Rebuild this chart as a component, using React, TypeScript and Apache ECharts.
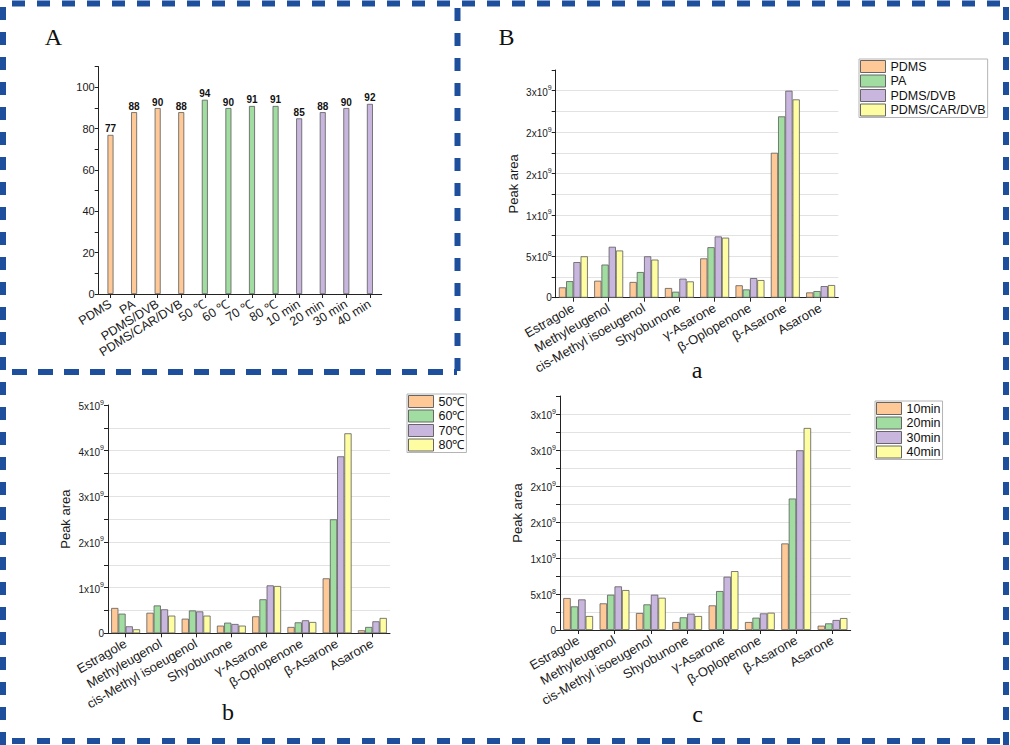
import React, { useEffect, useRef } from 'react';
import * as echarts from 'echarts';

// ---------- Data ----------
const categoriesA = ['PDMS', 'PA', 'PDMS/DVB', 'PDMS/CAR/DVB', '50 ℃', '60 ℃', '70 ℃', '80 ℃', '10 min', '20 min', '30 min', '40 min'];
const valuesA = [77, 88, 90, 88, 94, 90, 91, 91, 85, 88, 90, 92];
const groupA = [0, 0, 0, 0, 1, 1, 1, 1, 2, 2, 2, 2];

const compounds = ['Estragole', 'Methyleugenol', 'cis-Methyl isoeugenol', 'Shyobunone', 'γ-Asarone', 'β-Oplopenone', 'β-Asarone', 'Asarone'];

const fiberNames = ['PDMS', 'PA', 'PDMS/DVB', 'PDMS/CAR/DVB'];
const fiberPDMS = [1.25e8, 2.05e8, 1.9e8, 1.17e8, 4.75e8, 1.5e8, 1.75e9, 0.64e8];
const fiberPA = [2.0e8, 4.0e8, 3.1e8, 0.72e8, 6.1e8, 1.0e8, 2.19e9, 0.8e8];
const fiberPDMSDVB = [4.3e8, 6.15e8, 5.0e8, 2.3e8, 7.4e8, 2.37e8, 2.5e9, 1.4e8];
const fiberPDMSCARDVB = [5.0e8, 5.7e8, 4.6e8, 1.97e8, 7.25e8, 2.13e8, 2.395e9, 1.53e8];

const tempNames = ['50℃', '60℃', '70℃', '80℃'];
const temp50 = [5.55e8, 4.5e8, 3.2e8, 1.68e8, 3.72e8, 1.39e8, 1.204e9, 0.66e8];
const temp60 = [4.3e8, 6.1e8, 5.0e8, 2.33e8, 7.45e8, 2.4e8, 2.496e9, 1.39e8];
const temp70 = [1.53e8, 5.25e8, 4.8e8, 2.04e8, 1.05e9, 2.85e8, 3.876e9, 2.63e8];
const temp80 = [0.88e8, 3.87e8, 3.87e8, 1.68e8, 1.036e9, 2.48e8, 4.38e9, 3.36e8];

const timeNames = ['10min', '20min', '30min', '40min'];
const time10 = [4.44e8, 3.7e8, 2.36e8, 1.11e8, 3.42e8, 1.11e8, 1.202e9, 0.6e8];
const time20 = [3.28e8, 4.9e8, 3.56e8, 1.76e8, 5.41e8, 1.71e8, 1.826e9, 0.92e8];
const time30 = [4.25e8, 6.06e8, 4.9e8, 2.27e8, 7.4e8, 2.31e8, 2.496e9, 1.39e8];
const time40 = [1.94e8, 5.55e8, 4.48e8, 1.94e8, 8.18e8, 2.4e8, 2.806e9, 1.66e8];

const palette = ['#FEC997', '#A1DCA0', '#C9B6DF', '#FEFDA1'];

// ---------- Helpers ----------
const SANS = '"Liberation Sans", Arial, sans-serif';
const SERIF = '"Liberation Serif", "Times New Roman", serif';

function sciFormatter(step: number) {
  return (v: number) => {
    if (v === 0) return '0';
    const r = v / step;
    if (Math.abs(r - Math.round(r)) > 1e-6) return '';
    const e = Math.floor(Math.log10(v) + 1e-9);
    const m = Math.round(v / Math.pow(10, e));
    return `{b|${m}x10}{s|${e}}`;
  };
}

function catAxis(gridIndex: number, data: string[], fontSize: number, rotate: number) {
  return {
    type: 'category',
    gridIndex,
    data,
    boundaryGap: true,
    axisLine: { show: true, lineStyle: { color: '#222', width: 1 } },
    axisTick: { show: true, alignWithLabel: true, interval: 0, length: 4, lineStyle: { color: '#222' } },
    axisLabel: { interval: 0, rotate, fontSize, color: '#1a1a1a', fontFamily: SANS, margin: 9 },
    splitLine: { show: false },
  };
}

function valAxis(gridIndex: number, max: number, interval: number, labelStep: number, grid: boolean, sci: boolean) {
  return {
    type: 'value',
    gridIndex,
    min: 0,
    max,
    interval,
    name: sci ? 'Peak area' : '',
    nameLocation: 'middle',
    nameGap: 36,
    nameTextStyle: { fontSize: 13, color: '#1a1a1a', fontFamily: SANS },
    axisLine: { show: true, lineStyle: { color: '#222', width: 1 } },
    axisTick: { show: true, length: 4, lineStyle: { color: '#222' } },
    axisLabel: {
      fontSize: sci ? 10 : 11,
      color: '#1a1a1a',
      fontFamily: SANS,
      margin: 4,
      formatter: sci
        ? sciFormatter(labelStep)
        : (v: number) => (Math.abs(v / labelStep - Math.round(v / labelStep)) < 1e-6 && v <= 100 ? String(v) : ''),
      rich: {
        b: { fontSize: 10, lineHeight: 13, color: '#1a1a1a', fontFamily: SANS, verticalAlign: 'bottom' },
        s: { fontSize: 7, lineHeight: 8, color: '#1a1a1a', fontFamily: SANS, verticalAlign: 'top' },
      },
    },
    splitLine: grid
      ? { show: true, showMinLine: false, showMaxLine: false, lineStyle: { color: '#e2e2e2', width: 1 } }
      : { show: false },
  };
}

function groupSeries(names: string[], arrays: number[][], axisIndex: number) {
  return names.map((name, k) => ({
    type: 'bar',
    name,
    xAxisIndex: axisIndex,
    yAxisIndex: axisIndex,
    data: arrays[k],
    barGap: '0%',
    barCategoryGap: '18%',
    itemStyle: { color: palette[k], borderColor: '#5c5c5c', borderWidth: 0.8 },
  }));
}

function legendFor(names: string[], left: number, top: number) {
  return {
    data: names,
    left,
    top,
    orient: 'vertical',
    icon: 'rect',
    itemWidth: 25,
    itemHeight: 12,
    itemGap: 1.5,
    padding: [1, 2, 1, 1],
    borderColor: '#b4b4b4',
    borderWidth: 1,
    backgroundColor: '#ffffff',
    textStyle: { fontSize: 12.5, color: '#111', fontFamily: SANS },
    itemStyle: { borderColor: '#666', borderWidth: 1 },
    selectedMode: false,
  };
}

const BLUE = '#1d4f9d';
function dash(x1: number, y1: number, x2: number, y2: number, d: number[] = [13, 12]) {
  return {
    type: 'line',
    silent: true,
    shape: { x1, y1, x2, y2 },
    style: { stroke: BLUE, lineWidth: 6, lineDash: d },
  };
}
function letter(text: string, x: number, y: number, size: number) {
  return {
    type: 'text',
    silent: true,
    x,
    y,
    style: { text, font: `${size}px ${SERIF}`, fill: '#111', align: 'center', verticalAlign: 'middle' },
  };
}

export default function App() {
  const ref = useRef<HTMLDivElement>(null);
  useEffect(() => {
    if (!ref.current) return;
    const chart = echarts.init(ref.current, undefined, { renderer: 'svg' });
    const option: any = {
      animation: false,
      backgroundColor: '#ffffff',
      textStyle: { fontFamily: SANS },
      grid: [
        { left: 98.7, top: 66.7, width: 283, height: 227.3, outerBoundsMode: 'none', containLabel: false },
        { left: 555.7, top: 70, width: 282.6, height: 227.7, outerBoundsMode: 'none', containLabel: false },
        { left: 108, top: 405, width: 282, height: 228.3, outerBoundsMode: 'none', containLabel: false },
        { left: 560, top: 396, width: 290.7, height: 234, outerBoundsMode: 'none', containLabel: false },
      ],
      xAxis: [
        catAxis(0, categoriesA, 12.5, 32),
        catAxis(1, compounds, 13, 30),
        catAxis(2, compounds, 13, 30),
        catAxis(3, compounds, 13, 30),
      ],
      yAxis: [
        valAxis(0, 110, 10, 20, false, false),
        valAxis(1, 2.75e9, 2.5e8, 5e8, true, true),
        valAxis(2, 5e9, 5e8, 1e9, true, true),
        valAxis(3, 3.25e9, 2.5e8, 5e8, true, true),
      ],
      legend: [
        legendFor(fiberNames, 859, 59),
        legendFor(tempNames, 407, 394),
        legendFor(timeNames, 875, 401),
      ],
      series: [
        {
          type: 'bar',
          name: 'Extraction',
          xAxisIndex: 0,
          yAxisIndex: 0,
          barWidth: 6,
          data: valuesA.map((v, i) => ({ value: v, itemStyle: { color: palette[groupA[i]] } })),
          itemStyle: { borderColor: '#5c5c5c', borderWidth: 0.8 },
          label: { show: true, position: 'top', distance: 1, fontSize: 10, fontWeight: 'bold', color: '#111', fontFamily: SANS },
        },
        ...groupSeries(fiberNames, [fiberPDMS, fiberPA, fiberPDMSDVB, fiberPDMSCARDVB], 1),
        ...groupSeries(tempNames, [temp50, temp60, temp70, temp80], 2),
        ...groupSeries(timeNames, [time10, time20, time30, time40], 3),
      ],
      graphic: [
        // outer border
        dash(12, 3.5, 1010, 3.5),
        dash(3, 7, 3, 745),
        dash(12, 741, 1010, 741),
        dash(1006, 7, 1006, 745),
        // dividers
        dash(457.5, 8, 457.5, 376),
        dash(12, 372, 457, 372, [15, 11]),
        // panel letters
        letter('A', 53.5, 37, 24),
        letter('B', 506.5, 37, 24),
        letter('a', 697, 370, 24),
        letter('b', 228, 712, 24),
        letter('c', 697.5, 714, 24),
      ],
    };
    chart.setOption(option);
    return () => chart.dispose();
  }, []);
  return <div ref={ref} style={{ position: 'absolute', left: 0, top: 0, width: 1010, height: 745, background: '#fff' }} />;
}
